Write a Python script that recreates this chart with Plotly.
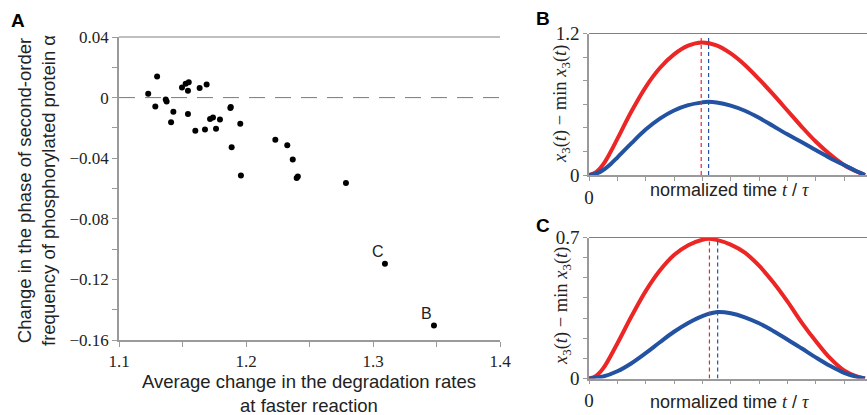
import plotly.graph_objects as go

# ---------------- Panel A data ----------------
deg_rate_change = [1.123, 1.130, 1.1286, 1.1368, 1.1375, 1.1428, 1.141, 1.1496, 1.1525, 1.1549,
                   1.1543, 1.1543, 1.1601, 1.1635, 1.169, 1.1677, 1.1717, 1.174, 1.1764, 1.1795,
                   1.1877, 1.188, 1.1887, 1.1955, 1.196, 1.2231, 1.2325, 1.2368, 1.2399, 1.2408,
                   1.2787, 1.3094, 1.348]
phase_change = [0.0026, 0.0139, -0.0059, -0.0013, -0.0026, -0.0094, -0.0163, 0.0066, 0.0092, 0.0101,
                0.0046, -0.0108, -0.0218, 0.0064, 0.0086, -0.0211, -0.0141, -0.0132, -0.0205, -0.0145,
                -0.0068, -0.0062, -0.0328, -0.0172, -0.0515, -0.0279, -0.0315, -0.0409, -0.053, -0.052,
                -0.0563, -0.1096, -0.1505]
labelled_points = {"C": (1.3094, -0.1096), "B": (1.348, -0.1505)}

a_xtickvals = [1.1, 1.15, 1.2, 1.25, 1.3, 1.35, 1.4]
a_xticktext = ["1.1", "", "1.2", "", "1.3", "", "1.4"]
a_ytickvals = [0.04, 0.02, 0, -0.02, -0.04, -0.06, -0.08, -0.10, -0.12, -0.14, -0.16]
a_yticktext = ["0.04", "", "0", "", "\u22120.04", "", "\u22120.08", "", "\u22120.12", "", "\u22120.16"]

# ---------------- Panel B data (normalized time, x3 - min x3) ----------------
b_red_t = [0, 0.025, 0.05, 0.075, 0.10, 0.15, 0.20, 0.25, 0.30, 0.35, 0.398, 0.45, 0.50, 0.55, 0.60, 0.65,
           0.70, 0.75, 0.80, 0.85, 0.90, 0.95, 0.974]
b_red_y = [0, 0.025, 0.09, 0.19, 0.306, 0.54, 0.746, 0.907, 1.023, 1.097, 1.124, 1.099, 1.031, 0.933, 0.813,
           0.683, 0.547, 0.411, 0.284, 0.176, 0.085, 0.024, 0]
b_blue_t = [0, 0.025, 0.05, 0.075, 0.10, 0.15, 0.20, 0.25, 0.30, 0.35, 0.40, 0.421, 0.45, 0.50, 0.55, 0.60,
            0.65, 0.70, 0.75, 0.80, 0.85, 0.90, 0.95, 0.974]
b_blue_y = [0, 0.011, 0.042, 0.09, 0.148, 0.27, 0.385, 0.478, 0.547, 0.592, 0.616, 0.621, 0.615, 0.588, 0.545,
            0.485, 0.415, 0.345, 0.28, 0.212, 0.145, 0.085, 0.025, 0]
b_peak_red, b_peak_blue, b_peak_top = 0.396, 0.422, 1.165

# ---------------- Panel C data ----------------
c_red_t = [0, 0.025, 0.05, 0.10, 0.15, 0.20, 0.25, 0.30, 0.35, 0.40, 0.421, 0.45, 0.50, 0.55, 0.60, 0.65,
           0.70, 0.75, 0.80, 0.85, 0.90, 0.95, 0.974]
c_red_y = [0, 0.013, 0.05, 0.174, 0.309, 0.434, 0.536, 0.613, 0.662, 0.689, 0.694, 0.688, 0.665, 0.625,
           0.56, 0.478, 0.383, 0.279, 0.186, 0.102, 0.04, 0.008, 0]
c_blue_t = [0, 0.05, 0.10, 0.15, 0.20, 0.25, 0.30, 0.35, 0.40, 0.454, 0.50, 0.55, 0.60, 0.65,
            0.70, 0.75, 0.80, 0.85, 0.90, 0.95, 0.974]
c_blue_y = [0, 0.01, 0.036, 0.076, 0.126, 0.18, 0.232, 0.276, 0.31, 0.33, 0.324, 0.304, 0.274, 0.236,
            0.194, 0.15, 0.105, 0.063, 0.028, 0.006, 0]
c_peak_red, c_peak_blue, c_peak_top = 0.425, 0.454, 0.69

t_tickvals = [0, 0.1, 0.2, 0.3, 0.4, 0.5, 0.6, 0.7, 0.8, 0.9]
t_ticktext = ["0", "", "", "", "", "", "", "", "", ""]
b_ytickvals = [0, 0.2, 0.4, 0.6, 0.8, 1.0, 1.2]
b_yticktext = ["0", "", "", "", "", "", "1.2"]
c_ytickvals = [0, 0.1, 0.2, 0.3, 0.4, 0.5, 0.6, 0.7]
c_yticktext = ["0", "", "", "", "", "", "", "0.7"]

RED = "rgb(236,38,36)"
BLUE = "rgb(36,82,162)"
AXC = "#9a9a9a"
SERIF = "Liberation Serif"
SANS = "Liberation Sans"

W, H = 867, 415


def px_x(p):
    return p / W


def px_y(p):
    return (H - p) / H


fig = go.Figure()

# Panel A
fig.add_trace(go.Scatter(x=deg_rate_change, y=phase_change, mode="markers",
                         marker=dict(color="black", size=6), xaxis="x", yaxis="y",
                         showlegend=False))

# Panel B
for t, y, c in [(b_red_t, b_red_y, RED), (b_blue_t, b_blue_y, BLUE)]:
    fig.add_trace(go.Scatter(x=t, y=y, mode="lines", line=dict(color=c, width=4, shape="spline", smoothing=1.0),
                             xaxis="x2", yaxis="y2", showlegend=False))
for tp, c in [(b_peak_red, RED), (b_peak_blue, BLUE)]:
    fig.add_trace(go.Scatter(x=[tp, tp], y=[0, b_peak_top], mode="lines",
                             line=dict(color=c, width=1.2, dash="4px,3px"),
                             xaxis="x2", yaxis="y2", showlegend=False))

# Panel C
for t, y, c in [(c_red_t, c_red_y, RED), (c_blue_t, c_blue_y, BLUE)]:
    fig.add_trace(go.Scatter(x=t, y=y, mode="lines", line=dict(color=c, width=4, shape="spline", smoothing=1.0),
                             xaxis="x3", yaxis="y3", showlegend=False))
for tp, c in [(c_peak_red, RED), (c_peak_blue, BLUE)]:
    fig.add_trace(go.Scatter(x=[tp, tp], y=[0, c_peak_top], mode="lines",
                             line=dict(color=c, width=1.2, dash="4px,3px"),
                             xaxis="x3", yaxis="y3", showlegend=False))

common_axis = dict(showgrid=False, zeroline=False, showline=True, linecolor=AXC, linewidth=1.5,
                   ticks="outside", tickcolor=AXC, tickwidth=1, fixedrange=True, automargin=False)

fig.update_layout(
    template="none",
    width=W, height=H, margin=dict(l=0, r=0, t=0, b=0, pad=0, autoexpand=False),
    paper_bgcolor="white", plot_bgcolor="white",
    font=dict(family=SERIF, color="black"),
    xaxis=dict(**common_axis, domain=[px_x(119), px_x(500)], range=[1.1, 1.4], anchor="y",
               tickvals=a_xtickvals, ticktext=a_xticktext, ticklen=5,
               tickfont=dict(family=SERIF, size=17, color="#222")),
    yaxis=dict(**common_axis, domain=[px_y(340), px_y(37)], range=[-0.16, 0.04], anchor="x",
               tickvals=a_ytickvals, ticktext=a_yticktext, ticklen=5,
               tickfont=dict(family=SERIF, size=17, color="#222")),
    xaxis2=dict(**common_axis, domain=[px_x(589), 1.0], range=[0, 0.981], anchor="y2",
                tickvals=t_tickvals, ticktext=t_ticktext, ticklen=4,
                tickfont=dict(family=SERIF, size=19, color="#222")),
    yaxis2=dict(**common_axis, domain=[px_y(175), px_y(33.5)], range=[0, 1.2], anchor="x2",
                tickvals=b_ytickvals, ticktext=b_yticktext, ticklen=4,
                tickfont=dict(family=SERIF, size=19, color="#222")),
    xaxis3=dict(**common_axis, domain=[px_x(589), 1.0], range=[0, 0.981], anchor="y3",
                tickvals=t_tickvals, ticktext=t_ticktext, ticklen=4,
                tickfont=dict(family=SERIF, size=19, color="#222")),
    yaxis3=dict(**common_axis, domain=[px_y(378.5), px_y(237.5)], range=[0, 0.7], anchor="x3",
                tickvals=c_ytickvals, ticktext=c_yticktext, ticklen=4,
                tickfont=dict(family=SERIF, size=19, color="#222")),
)

# dashed zero line in A
fig.add_shape(type="line", xref="x domain", yref="y", x0=0, x1=1, y0=0, y1=0,
              line=dict(color="#7a7a7a", width=1, dash="16px,10px"), layer="below")
# top border lines
for xr, yr in [("x domain", "y domain"), ("x2 domain", "y2 domain"), ("x3 domain", "y3 domain")]:
    fig.add_shape(type="line", xref=xr, yref=yr, x0=0, x1=1, y0=1, y1=1,
                  line=dict(color="#808080", width=1))

# point labels
for lab, (lx, ly) in labelled_points.items():
    fig.add_annotation(x=lx, y=ly, xref="x", yref="y", text=lab, showarrow=False,
                       xshift=-7, yshift=12, font=dict(family=SANS, size=16, color="#222"))

# axis titles A
fig.add_annotation(text="Change in the phase of second-order<br>frequency of phosphorylated protein \u03b1",
                   xref="paper", yref="paper", x=px_x(36), y=px_y(191), textangle=-90,
                   showarrow=False, xanchor="center", yanchor="middle",
                   font=dict(family=SANS, size=18.5, color="#222"))
fig.add_annotation(text="Average change in the degradation rates<br>at faster reaction",
                   xref="paper", yref="paper", x=px_x(309), y=px_y(393),
                   showarrow=False, xanchor="center", yanchor="middle",
                   font=dict(family=SANS, size=18.5, color="#222"))

# axis titles B/C
tt = ("normalized time <span style=\"font-family:'Liberation Serif'\"><i>t</i></span> / "
      "<span style=\"font-family:'Liberation Serif'\"><i>\u03c4</i></span>")
ytt = "<i>x</i><sub>3</sub>(<i>t</i>) \u2212 min <i>x</i><sub>3</sub>(<i>t</i>)"
for yc in [190, 402]:
    fig.add_annotation(text=tt, xref="paper", yref="paper", x=px_x(729), y=px_y(yc),
                       showarrow=False, xanchor="center", yanchor="middle",
                       font=dict(family=SANS, size=18, color="#222"))
for yc in [104, 306]:
    fig.add_annotation(text=ytt, xref="paper", yref="paper", x=px_x(562), y=px_y(yc), textangle=-90,
                       showarrow=False, xanchor="center", yanchor="middle",
                       font=dict(family=SERIF, size=18.5, color="#222"))

# panel letters
for lab, lx, ly in [("A", 18, 20), ("B", 543, 19), ("C", 543, 226)]:
    fig.add_annotation(text="<b>%s</b>" % lab, xref="paper", yref="paper", x=px_x(lx), y=px_y(ly),
                       showarrow=False, xanchor="center", yanchor="middle",
                       font=dict(family=SANS, size=19, color="black"))

fig.write_html("out.html", config={"displayModeBar": False},
               post_script="document.body.style.margin='0px';document.body.style.overflow='hidden';")
